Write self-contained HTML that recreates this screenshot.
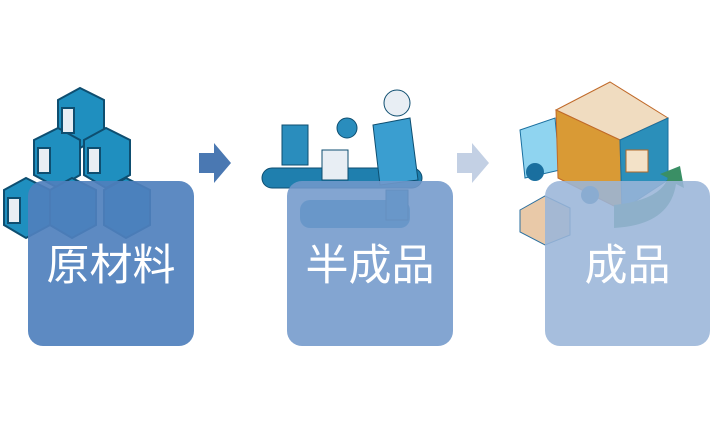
<!DOCTYPE html>
<html><head><meta charset="utf-8"><style>
html,body{margin:0;padding:0;background:#fff;width:711px;height:427px;overflow:hidden;position:relative;font-family:"Liberation Sans","Noto Sans CJK SC",sans-serif}
.box{position:absolute;top:181px;width:166px;height:165px;border-radius:15px;color:#fff;font-size:43px;text-align:center;line-height:44px;box-sizing:border-box;padding-top:63px}
svg{position:absolute;left:0;top:0}
</style></head><body>
<svg width="711" height="427">
 <g stroke="#0e4e70" stroke-width="2">
  <g fill="#1f8fbf"><path d="M58 100 L80 88 L104 100 L104 135 L80 148 L58 135Z"/><path d="M34 140 L58 128 L80 140 L80 175 L58 188 L34 175Z"/><path d="M84 140 L106 128 L130 140 L130 175 L106 188 L84 175Z"/><path d="M4 190 L26 178 L50 190 L50 225 L26 238 L4 225Z"/><path d="M50 190 L72 178 L96 190 L96 225 L72 238 L50 225Z"/><path d="M104 190 L126 178 L150 190 L150 225 L126 238 L104 225Z"/></g>
  <g fill="#e8eef4"><rect x="62" y="108" width="12" height="25"/><rect x="38" y="148" width="12" height="25"/><rect x="88" y="148" width="12" height="25"/><rect x="8" y="198" width="12" height="25"/></g>
 </g>
 <path d="M199 153 L214 153 L214 143 L231 163 L214 183 L214 173 L199 173Z" fill="#4a78b2"/>
 <path d="M457 153 L472 153 L472 143 L489 163 L472 183 L472 173 L457 173Z" fill="#c3d0e4"/>
 <rect x="262" y="168" width="160" height="20" rx="10" fill="#1f7fae" stroke="#0e4e70"/>
 <circle cx="325" cy="208" r="6" fill="#1f7fae"/><circle cx="400" cy="212" r="6" fill="#1f7fae"/>
 <rect x="300" y="200" width="110" height="28" rx="10" fill="#2a8dbd"/>
 <rect x="282" y="125" width="26" height="40" fill="#2a8dbd" stroke="#0e4e70"/>
 <rect x="322" y="150" width="26" height="30" fill="#e8eef4" stroke="#0e4e70"/>
 <circle cx="347" cy="128" r="10" fill="#2a8dbd" stroke="#0e4e70"/>
 <circle cx="397" cy="103" r="13" fill="#e8eef4" stroke="#0e4e70"/>
 <path d="M373 125 L410 118 L418 180 L380 185Z" fill="#3a9ed0" stroke="#0e4e70"/>
 <rect x="386" y="190" width="22" height="30" fill="#2a8dbd" stroke="#0e4e70"/>
 <path d="M520 130 L555 118 L560 170 L525 178Z" fill="#8fd4f0" stroke="#1a6f9f"/>
 <path d="M556 110 L610 82 L668 118 L620 140Z" fill="#f0dcc0" stroke="#c06a2a"/>
 <path d="M556 110 L620 140 L622 210 L558 178Z" fill="#d99a35" stroke="#c06a2a"/>
 <path d="M620 140 L668 118 L668 180 L622 210Z" fill="#2b8fba" stroke="#1a6f9f"/>
 <rect x="626" y="150" width="22" height="22" fill="#f3e2c8" stroke="#b06a2a"/>
 <circle cx="535" cy="172" r="9" fill="#1a6f9f"/><circle cx="590" cy="195" r="9" fill="#1a6f9f"/>
 <path d="M520 210 L545 196 L570 208 L570 235 L545 245 L520 232Z" fill="#e9c9a8" stroke="#2a6f9f"/>
 <path d="M614 205 Q660 200 668 178 L660 174 L680 166 L684 188 L676 184 Q670 225 614 228Z" fill="#3a8f65"/>
</svg>
<div class="box" style="left:28px;background:rgba(79,128,189,0.92)">原材料</div>
<div class="box" style="left:287px;background:rgba(114,153,203,0.88)">半成品</div>
<div class="box" style="left:545px;width:165px;background:rgba(154,181,216,0.88)">成品</div>
</body></html>
